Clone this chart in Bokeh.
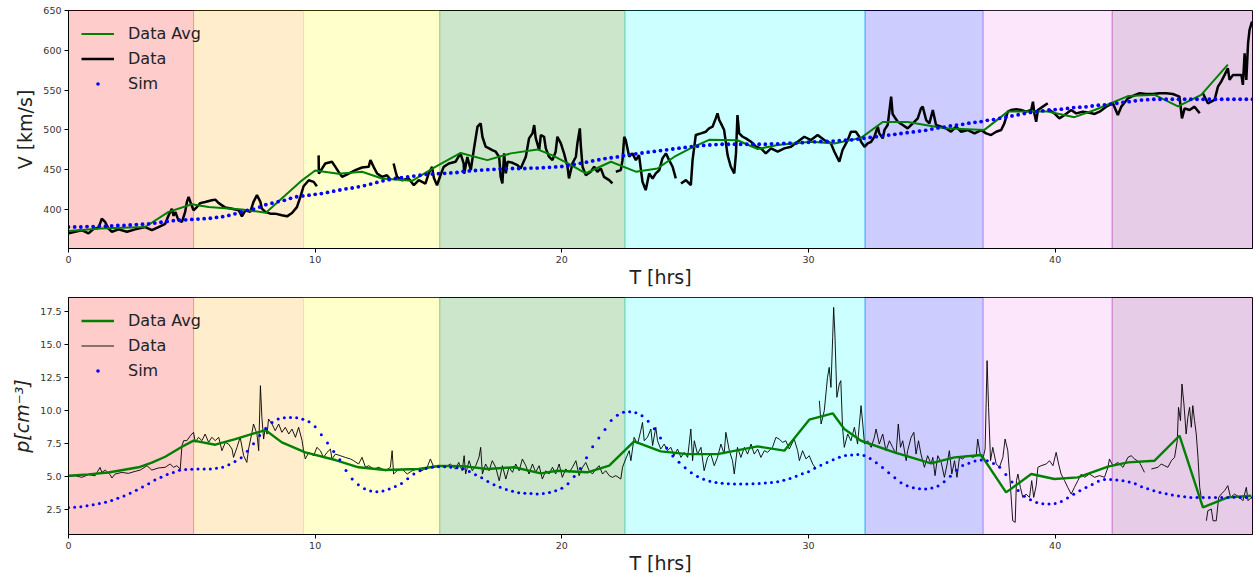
import numpy as np
from bokeh.plotting import figure
from bokeh.models import (BoxAnnotation, Legend, LegendItem, FixedTicker,
                          PrintfTickFormatter, Range1d)
from bokeh.layouts import column
from bokeh.embed import file_html
from bokeh.resources import INLINE

nan = float("nan")

# ---------------- data ----------------
span_edges = [0.0, 5.07, 9.53, 15.05, 22.56, 32.29, 37.08, 42.31, 48.0]
span_colors = ["red", "orange", "yellow", "green", "cyan", "blue", "violet", "purple"]

x_ticks = [0, 10, 20, 30, 40]
v_ticks = [400, 450, 500, 550, 600, 650]
p_ticks = [2.5, 5.0, 7.5, 10.0, 12.5, 15.0, 17.5]

# Speed: measured data (t [hrs], V [km/s]); nan = data gap
v_data = [
    (0, 370), (0.27, 372), (0.54, 374), (0.81, 370), (1.01, 375.5), (1.22, 377), (1.35, 388.5),
    (1.49, 384), (1.62, 376), (1.76, 372), (2.03, 375), (2.37, 372), (2.7, 375), (3.11, 378),
    (3.38, 374), (3.65, 378), (3.92, 382), (4.06, 392.7), (4.19, 401), (4.26, 392), (4.33, 397),
    (4.46, 386.4), (4.6, 384.3), (4.73, 397), (4.8, 409.5), (4.87, 415.8), (4.94, 409.5),
    (5.07, 399), (5.2, 403), (5.34, 408), (5.54, 409.5), (5.81, 411.6), (5.95, 412.4), (6.09, 408),
    (6.36, 402.4), (6.63, 401), (6.9, 399), (7.03, 391.4), (7.17, 399), (7.37, 397), (7.5, 409.5),
    (7.64, 418), (7.78, 409.5), (7.84, 401), (7.98, 397), (8.18, 394.8), (8.38, 394.8),
    (8.65, 392.7), (8.86, 391.4), (9.06, 395.6), (9.26, 403), (9.4, 415.8), (9.53, 429.2),
    (9.74, 436.8), (9.94, 434.7), (10.07, 429.2), (10.1, nan),
    (10.14, 468), (10.15, 445), (10.41, 457.8), (10.68, 460), (10.82, 453.6), (10.95, 447.3),
    (11.09, 441), (11.36, 445.2), (11.63, 449.4), (11.9, 452.8), (12.17, 453.6), (12.24, 462),
    (12.37, 453.6), (12.51, 445.2), (12.71, 441), (12.91, 443), (13.05, 437.6), (13.1, nan),
    (13.18, 457.8), (13.25, 449), (13.32, 441), (13.52, 436.8), (13.79, 439), (14.0, 430.5),
    (14.2, 436.8), (14.47, 432.6), (14.6, 445.2), (14.74, 453.6), (14.81, 440), (14.94, 430.5),
    (15.08, 443), (15.21, 453.6), (15.42, 457.8), (15.69, 460), (15.89, 470.4), (16.02, 457.8),
    (16.04, 445), (16.17, 466), (16.31, 449.5), (16.44, 476.8), (16.58, 504), (16.71, 508.2),
    (16.78, 491.4), (16.91, 478.9), (17.05, 476.8), (17.18, 474.6), (17.32, 472.6), (17.46, 466),
    (17.52, 441), (17.59, 432.7), (17.66, 470.5), (17.73, 445.3), (17.8, 460), (18.0, 458.7),
    (18.2, 455.8), (18.33, 451.6), (18.54, 466.3), (18.67, 489.3), (18.81, 495.6), (18.88, 506),
    (18.94, 490), (19.08, 474.6), (19.15, 493.6), (19.28, 491.4), (19.35, 476.8), (19.48, 466.3),
    (19.62, 462), (19.75, 472.6), (19.82, 491.4), (19.96, 483), (20.09, 470.5), (20.23, 453.7),
    (20.29, 439), (20.43, 457.9), (20.57, 466.3), (20.63, 483), (20.73, 501.9), (20.77, 480),
    (20.84, 453.7), (20.97, 443.2), (21.17, 447.4), (21.31, 453.7), (21.44, 447.4), (21.58, 451.6),
    (21.71, 441), (21.92, 436.9), (22.05, 432.7), (22.1, nan),
    (22.19, 447.4), (22.39, 449.5), (22.46, 462), (22.53, 491.4), (22.59, 487.2), (22.73, 466.3),
    (22.86, 470.5), (23.0, 462), (23.13, 468.4), (23.27, 434.8), (23.4, 424.3), (23.54, 445.3),
    (23.68, 439), (23.81, 445.3), (23.95, 449.5), (24.08, 464.2), (24.22, 470.5), (24.35, 462),
    (24.49, 453.7), (24.62, 439), (24.7, nan),
    (24.83, 432.7), (25.03, 436.9), (25.23, 430.6), (25.3, 462), (25.37, 478.9), (25.43, 493.6),
    (25.64, 495.6), (25.84, 497.7), (25.97, 502), (26.11, 504), (26.24, 514.5), (26.31, 520.8),
    (26.38, 512.4), (26.45, 508.2), (26.58, 499.8), (26.72, 468.4), (26.85, 453.7), (26.99, 445.3),
    (27.06, 470.5), (27.12, 518.7), (27.19, 495.6), (27.33, 491.4), (27.46, 489.3), (27.67, 485.1),
    (27.87, 478.9), (28.07, 476.8), (28.27, 470.5), (28.48, 476.8), (28.75, 472.6), (29.02, 476.8),
    (29.29, 478.9), (29.56, 485.1), (29.83, 491.4), (30.1, 487.2), (30.37, 493.6), (30.64, 487.2),
    (30.91, 483), (31.05, 472.6), (31.25, 460), (31.38, 474.7), (31.59, 487.2), (31.72, 497.7),
    (31.92, 497.7), (32.06, 491.4), (32.13, 485.1), (32.27, 478.8), (32.4, 483), (32.54, 485.1),
    (32.67, 491.4), (32.81, 504), (32.87, 495.6), (33.01, 489.3), (33.08, 500), (33.21, 506.1),
    (33.35, 541.8), (33.41, 520), (33.48, 516.6), (33.62, 510.3), (33.82, 506.1), (34.02, 501.9),
    (34.23, 508.2), (34.43, 514.5), (34.56, 527.1), (34.63, 529.2), (34.77, 512.4), (34.9, 508.2),
    (35.04, 525), (35.17, 506.1), (35.38, 504), (35.58, 501.9), (35.78, 497.7), (35.98, 504),
    (36.19, 497.7), (36.46, 499.8), (36.73, 495.6), (37.0, 499.8), (37.2, 495.6), (37.4, 493.5),
    (37.61, 497.7), (37.81, 499.8), (37.94, 508.2), (38.08, 522.9), (38.21, 525), (38.42, 525.8),
    (38.62, 525), (38.82, 522.9), (39.03, 525), (39.1, 535.5), (39.16, 520), (39.23, 510.3),
    (39.3, 525), (39.5, 529.2), (39.7, 533.4), (39.74, nan),
    (39.77, 525), (39.97, 520.8), (40.17, 514.5), (40.38, 518.7), (40.65, 525), (40.85, 520.8),
    (41.12, 522.9), (41.39, 521.6), (41.6, 520), (41.8, 522.9), (42.07, 529.2), (42.34, 533.4),
    (42.54, 518.7), (42.68, 529.2), (42.81, 534.2), (42.95, 539.7), (43.15, 542.6), (43.42, 546),
    (43.69, 545.1), (43.96, 545.1), (44.23, 546), (44.5, 546), (44.77, 545.1), (45.04, 541.8),
    (45.14, 514.5), (45.25, 527.1), (45.45, 525), (45.65, 529.2), (45.86, 520.8), (45.92, nan),
    (45.99, 546), (46.19, 533.4), (46.46, 537.6), (46.6, 554.4), (46.73, 560.7), (46.87, 569.1),
    (47.0, 577.5), (47.07, 562.8), (47.21, 569.1), (47.41, 569.1), (47.55, 569.1), (47.61, 556.5),
    (47.68, 596.3), (47.75, 562.8), (47.82, 608.9), (47.88, 625.7), (47.98, 636.2),
]

# Speed: data average
v_avg = [
    (0, 373), (1.3, 376), (3.1, 378), (4.06, 397), (5.0, 406.5), (5.68, 403), (7.03, 400),
    (8.0, 396), (9.4, 435), (10.0, 449), (10.95, 445), (11.9, 447.5), (12.71, 439), (13.93, 436),
    (14.87, 453.5), (15.9, 471), (16.98, 462), (17.93, 470.5), (19.01, 475.5), (19.62, 468),
    (20.36, 456), (20.97, 445.5), (21.99, 460), (23.0, 447.5), (23.88, 451.5), (24.55, 466),
    (25.23, 477), (25.97, 487.5), (27.12, 487), (27.94, 476), (28.75, 481), (30.1, 485),
    (31.05, 483), (32.13, 490), (33.01, 510), (34.02, 510), (35.51, 502), (37.13, 500),
    (38.08, 523), (39.7, 523), (40.78, 516), (41.6, 525), (42.95, 542.5), (44.03, 544),
    (44.98, 529.5), (45.92, 544), (47.0, 582),
]

# Speed: simulation, one value every 0.25 hr from t = 0
v_sim = [
    378, 378, 378, 378.5, 378.5, 379, 379, 379.5, 380, 380, 380.5, 381,
    381.5, 382, 383, 384, 385, 386, 386.5, 387, 387.5, 388, 388.5, 389,
    390, 391, 392.5, 394.5, 397, 399, 400.5, 403, 406, 408, 410, 411.5,
    414, 416, 417, 418, 419, 420, 421.5, 423, 424.5, 426, 427, 428.5,
    430, 432, 434, 436, 437.5, 439, 440, 441, 442, 443, 444, 444.5,
    445, 445.5, 446, 446.5, 448, 448.5, 449, 449.5, 450, 450.5, 451, 451.5,
    451.5, 451.5, 451.5, 452, 452, 452.5, 453, 453.5, 454, 455, 456.5, 458,
    459.5, 461, 462.5, 464, 465, 466, 467.5, 469, 470, 471, 472, 473,
    474, 475, 476, 477, 478, 479, 479.5, 480.5, 481, 481.5, 482, 482,
    482, 482, 482, 482, 482, 482, 482.5, 482.5, 483, 483.5, 483.5, 484,
    484.5, 485, 485.5, 485.5, 486, 486.5, 487, 487.5, 488.5, 489.5, 490.5, 491.5,
    492.5, 493.5, 494.5, 495.5, 496.5, 497.5, 498.5, 499.5, 501, 502.5, 503.5, 505,
    506, 507, 508.5, 509.5, 510.5, 512, 513, 514.5, 516, 517.5, 519, 520.5,
    522, 523, 524, 525, 525.5, 526, 527, 528, 528.5, 529, 530, 531,
    531.5, 532.5, 533.5, 534.5, 535.5, 536.5, 537.5, 538, 538.5, 538.5, 538.5, 538.5,
    538.5, 538.5, 538.5, 538.5, 538.5, 538.5, 538.5, 538.5, 538.5, 538.5, 538.5, 538.5,
    538.5,
]

# Density: measured data (t [hrs], p [cm^-3])
p_data = [
    (0, 4.98), (0.27, 5.05), (0.54, 4.93), (0.81, 5.13), (1.08, 5.05), (1.28, 5.68), (1.35, 5.3),
    (1.49, 5.48), (1.69, 5.13), (1.76, 4.88), (1.89, 5.18), (2.16, 5.3), (2.43, 5.23), (2.7, 5.38),
    (2.91, 5.48), (3.18, 5.81), (3.38, 5.48), (3.65, 5.64), (3.92, 5.69), (4.12, 5.94), (4.26, 5.69),
    (4.39, 5.81), (4.53, 5.56), (4.6, 7.33), (4.67, 7.71), (4.8, 7.71), (4.94, 8.08), (5.07, 8.34),
    (5.14, 7.58), (5.27, 7.96), (5.41, 7.71), (5.54, 8.21), (5.68, 7.58), (5.81, 7.96), (5.95, 7.71),
    (6.09, 7.96), (6.22, 6.95), (6.36, 7.58), (6.49, 7.45), (6.63, 7.07), (6.69, 6.44), (6.83, 7.2),
    (6.96, 7.96), (7.1, 6.57), (7.23, 6.06), (7.3, 7.07), (7.44, 8.34), (7.5, 8.97), (7.64, 8.21),
    (7.71, 6.95), (7.78, 11.87), (7.84, 9.47), (7.91, 7.83), (7.98, 8.72), (8.05, 8.2), (8.11, 9.35),
    (8.25, 8.97), (8.38, 8.46), (8.52, 8.97), (8.65, 8.34), (8.79, 8.72), (8.93, 8.21), (9.06, 8.59),
    (9.2, 7.96), (9.33, 8.72), (9.47, 7.71), (9.53, 6.95), (9.6, 6.32), (9.74, 6.82), (9.94, 6.57),
    (10.07, 7.2), (10.21, 6.95), (10.34, 6.44), (10.48, 6.82), (10.62, 7.07), (10.68, 6.32),
    (10.82, 6.69), (11.02, 6.57), (11.22, 6.44), (11.43, 6.32), (11.56, 6.19), (11.76, 5.94),
    (11.9, 6.44), (12.04, 5.69), (12.17, 5.81), (12.37, 5.56), (12.58, 5.69), (12.85, 5.43),
    (13.05, 5.69), (13.12, 6.95), (13.18, 5.18), (13.32, 5.43), (13.52, 5.56), (13.73, 5.18),
    (13.93, 5.43), (14.13, 5.56), (14.33, 5.43), (14.54, 5.69), (14.67, 6.32), (14.81, 5.69),
    (15.01, 5.81), (15.28, 5.69), (15.48, 5.94), (15.69, 5.56), (15.82, 6.06), (15.96, 5.43),
    (16.04, 6.57), (16.1, 5.18), (16.24, 6.19), (16.37, 5.43), (16.51, 5.81), (16.64, 6.44),
    (16.71, 7.2), (16.78, 5.18), (16.91, 5.94), (17.05, 5.43), (17.18, 6.19), (17.32, 5.69),
    (17.46, 4.67), (17.59, 5.81), (17.73, 4.8), (17.86, 5.69), (18.0, 5.31), (18.13, 5.94),
    (18.27, 5.43), (18.4, 6.32), (18.54, 5.81), (18.67, 5.18), (18.81, 5.94), (18.94, 5.31),
    (19.08, 5.81), (19.21, 4.8), (19.35, 5.43), (19.48, 5.18), (19.62, 5.69), (19.75, 5.18),
    (19.89, 5.94), (20.02, 4.93), (20.16, 5.56), (20.3, 5.31), (20.43, 5.69), (20.57, 6.19),
    (20.7, 5.06), (20.84, 5.69), (20.97, 6.06), (21.11, 5.43), (21.24, 5.18), (21.38, 5.56),
    (21.51, 5.81), (21.65, 5.18), (21.78, 5.43), (21.92, 5.06), (22.05, 4.93), (22.19, 5.06),
    (22.39, 4.8), (22.46, 5.69), (22.59, 6.32), (22.73, 6.95), (22.8, 6.19), (22.93, 7.96),
    (23.07, 7.45), (23.2, 8.46), (23.27, 9.09), (23.34, 7.7), (23.47, 7.96), (23.61, 8.59),
    (23.68, 7.33), (23.81, 8.72), (23.88, 7.7), (24.01, 7.07), (24.15, 7.45), (24.28, 6.95),
    (24.42, 7.2), (24.55, 6.57), (24.69, 7.07), (24.83, 6.44), (24.96, 6.82), (25.1, 6.44),
    (25.23, 8.59), (25.3, 6.19), (25.37, 7.7), (25.5, 6.69), (25.64, 7.2), (25.77, 5.43),
    (25.91, 6.44), (26.04, 6.69), (26.18, 5.81), (26.31, 6.44), (26.45, 7.45), (26.58, 6.69),
    (26.65, 8.34), (26.79, 6.95), (26.92, 6.19), (26.99, 5.18), (27.12, 7.2), (27.26, 6.44),
    (27.4, 7.2), (27.53, 6.69), (27.67, 7.45), (27.8, 6.69), (27.94, 7.07), (28.07, 6.44),
    (28.21, 6.95), (28.34, 6.82), (28.54, 7.2), (28.68, 7.96), (28.81, 7.83), (28.95, 7.58),
    (29.08, 7.7), (29.22, 7.07), (29.42, 7.83), (29.56, 6.95), (29.63, 6.19), (29.76, 6.95),
    (29.9, 6.32), (30.03, 6.57), (30.17, 5.94), (30.3, 5.6), (30.35, nan),
    (30.44, 10.73), (30.51, 8.97), (30.64, 9.98), (30.77, 12.5), (30.84, 13.26), (30.91, 11.74),
    (30.98, 15.53), (31.02, 17.8), (31.07, 15.79), (31.15, 10.99), (31.25, 12.0), (31.31, 12.25),
    (31.38, 8.72), (31.45, 7.2), (31.59, 8.21), (31.72, 7.7), (31.86, 8.72), (31.99, 7.45),
    (32.1, 9.73), (32.13, 10.36), (32.2, 8.97), (32.27, 7.45), (32.4, 7.7), (32.54, 7.2),
    (32.67, 7.96), (32.74, 8.59), (32.87, 7.45), (33.01, 8.21), (33.14, 6.95), (33.28, 7.7),
    (33.41, 7.2), (33.55, 6.69), (33.64, 8.97), (33.73, 7.2), (33.82, 7.7), (33.96, 6.19),
    (34.02, 6.95), (34.16, 7.96), (34.27, 8.34), (34.36, 6.69), (34.46, 7.7), (34.56, 6.69),
    (34.7, 5.69), (34.83, 6.57), (34.97, 5.94), (35.04, 6.44), (35.13, 5.06), (35.24, 6.57),
    (35.38, 6.06), (35.51, 4.93), (35.62, 5.94), (35.71, 6.95), (35.81, 5.18), (35.92, 6.19),
    (36.02, 4.93), (36.12, 6.44), (36.25, 6.32), (36.39, 6.57), (36.53, 6.57), (36.66, 6.44),
    (36.8, 6.57), (36.86, 7.83), (36.97, 6.57), (37.07, 6.32), (37.16, 7.07), (37.24, 13.77),
    (37.3, 10.23), (37.38, 6.19), (37.47, 7.2), (37.61, 5.94), (37.74, 5.69), (37.88, 6.44),
    (37.97, 7.83), (38.08, 6.95), (38.19, 4.17), (38.28, 1.64), (38.38, 1.52), (38.43, 4.68),
    (38.49, 5.18), (38.59, 4.17), (38.69, 3.41), (38.82, 3.66), (38.96, 3.41), (39.05, 4.68),
    (39.13, 3.41), (39.23, 4.3), (39.3, 5.69), (39.43, 5.81), (39.64, 5.94), (39.77, 6.19),
    (39.91, 5.81), (40.04, 6.82), (40.14, 5.94), (40.24, 5.18), (40.38, 4.68), (40.51, 4.17),
    (40.65, 3.66), (40.78, 4.17), (40.92, 4.68), (41.06, 5.18), (41.19, 4.93), (41.39, 5.18),
    (41.6, 4.93), (41.8, 5.06), (42.0, 4.93), (42.14, 5.69), (42.2, 6.32), (42.34, 5.81),
    (42.54, 6.06), (42.75, 5.69), (42.95, 6.44), (43.08, 6.57), (43.22, 6.32), (43.42, 6.06),
    (43.62, 5.31), (43.75, nan), (43.9, 5.56), (44.17, 5.69), (44.3, 5.94), (44.44, 5.81),
    (44.57, 5.69), (44.71, 6.19), (44.84, 6.44), (44.95, 7.71), (45.0, 10.23), (45.08, 9.22),
    (45.14, 12.0), (45.22, 10.48), (45.31, 8.21), (45.38, 9.47), (45.45, 10.23), (45.52, 8.72),
    (45.58, 10.36), (45.65, 9.22), (45.72, 8.21), (45.79, 6.44), (45.86, 4.17), (45.92, 3.41),
    (46.0, nan), (46.13, 1.64), (46.19, 2.4), (46.33, 2.53), (46.4, 1.64), (46.53, 1.64),
    (46.63, 3.41), (46.73, 3.66), (46.87, 3.92), (47.0, 4.3), (47.11, 3.41), (47.27, 3.66),
    (47.48, 3.41), (47.61, 3.16), (47.75, 4.17), (47.82, 3.16), (47.95, 3.41),
]

# Density: data average
p_avg = [
    (0, 5.05), (0.8, 5.15), (1.62, 5.3), (2.84, 5.69), (3.38, 6.04), (3.92, 6.49), (4.6, 7.25),
    (5.07, 7.71), (5.95, 7.4), (6.76, 7.83), (7.98, 8.51), (8.65, 7.58), (9.6, 6.82),
    (10.82, 6.24), (11.76, 5.69), (12.85, 5.48), (14.2, 5.56), (15.0, 5.79), (16.0, 5.78),
    (16.98, 5.56), (18.06, 5.69), (19.15, 5.23), (19.82, 5.43), (21.04, 5.31), (21.92, 5.81),
    (22.93, 7.65), (24.01, 6.9), (25.1, 6.69), (26.31, 6.69), (27.94, 7.27), (29.02, 6.95),
    (30.03, 9.3), (30.98, 9.78), (31.45, 8.59), (32.13, 7.7), (33.48, 6.82), (34.97, 5.99),
    (35.92, 6.44), (37.0, 6.62), (38.01, 3.79), (39.03, 5.18), (39.97, 4.8), (40.92, 4.93),
    (42.14, 5.74), (42.95, 6.06), (44.03, 6.19), (45.04, 8.08), (45.99, 2.65), (47.0, 3.41),
    (47.95, 3.54),
]

# Density: simulation, one value every 0.25 hr from t = 0
p_sim = [
    2.65, 2.67, 2.70, 2.77, 2.86, 2.95, 3.05, 3.18, 3.34, 3.52, 3.72, 3.96,
    4.20, 4.45, 4.72, 4.93, 5.14, 5.30, 5.46, 5.52, 5.55, 5.56, 5.56, 5.57,
    5.62, 5.70, 5.88, 6.12, 6.42, 6.90, 7.48, 8.10, 8.62, 9.09, 9.35, 9.45,
    9.47, 9.44, 9.33, 9.14, 8.76, 8.15, 7.53, 6.88, 6.27, 5.45, 4.80, 4.36,
    4.06, 3.90, 3.83, 3.90, 4.05, 4.23, 4.47, 4.83, 5.18, 5.42, 5.59, 5.70,
    5.74, 5.73, 5.70, 5.65, 5.58, 5.38, 5.13, 4.90, 4.62, 4.37, 4.18, 4.01,
    3.87, 3.77, 3.73, 3.70, 3.66, 3.71, 3.78, 3.92, 4.10, 4.45, 5.00, 5.60,
    6.42, 7.25, 7.90, 8.56, 9.23, 9.63, 9.85, 9.90, 9.83, 9.60, 9.17, 8.60,
    7.90, 7.15, 6.55, 6.08, 5.65, 5.28, 5.00, 4.79, 4.63, 4.53, 4.48, 4.45,
    4.42, 4.42, 4.42, 4.44, 4.46, 4.50, 4.54, 4.60, 4.70, 4.85, 5.02, 5.20,
    5.36, 5.62, 5.84, 6.05, 6.27, 6.45, 6.58, 6.63, 6.65, 6.58, 6.36, 6.04,
    5.67, 5.27, 4.90, 4.52, 4.30, 4.15, 4.06, 4.05, 4.13, 4.28, 4.60, 5.02,
    5.47, 5.82, 6.00, 6.17, 6.24, 6.18, 5.98, 5.70, 5.15, 4.58, 3.94, 3.50,
    3.24, 3.03, 2.93, 2.91, 2.95, 3.09, 3.36, 3.65, 3.92, 4.16, 4.39, 4.63,
    4.77, 4.77, 4.72, 4.67, 4.58, 4.44, 4.22, 4.06, 3.92, 3.79, 3.69, 3.60,
    3.52, 3.46, 3.41, 3.41, 3.41, 3.41, 3.41, 3.41, 3.41, 3.42, 3.41, 3.40,
    3.41,
]
sim_dt = 0.25

FONT = "DejaVu Sans"


def unzip(pairs):
    return [a for a, _ in pairs], [b for _, b in pairs]


def make_panel(ylabel, yrange, yticks, data, avg, sim, data_width, avg_width, sim_size,
               top_border, frame_h, ylab_italic=False, fmt=None):
    p = figure(frame_width=1184, frame_height=frame_h,
               x_range=Range1d(0, 48.0), y_range=Range1d(*yrange),
               min_border_left=68, min_border_right=3, min_border_top=top_border,
               min_border_bottom=38, output_backend="svg", toolbar_location=None,
               background_fill_color="white", border_fill_color="white")
    p.grid.visible = False
    p.outline_line_color = "black"
    p.outline_line_width = 1

    for i, c in enumerate(span_colors):
        p.add_layout(BoxAnnotation(left=span_edges[i], right=span_edges[i + 1],
                                   fill_color=c, fill_alpha=0.2,
                                   line_color=c, line_alpha=0.35, line_width=1,
                                   level="underlay"))

    dt, dv = unzip(data)
    at, av = unzip(avg)
    st = [i * sim_dt for i in range(len(sim))]

    r_data = p.line(dt, dv, line_color="black", line_width=data_width,
                    line_alpha=0.9 if data_width < 1.5 else 1.0)
    r_avg = p.line(at, av, line_color="green", line_width=avg_width)
    r_sim = p.scatter(st, sim, size=sim_size, fill_color="blue", line_color="blue",
                      line_width=0, marker="circle")

    legend = Legend(items=[LegendItem(label="Data Avg", renderers=[r_avg]),
                           LegendItem(label="Data", renderers=[r_data]),
                           LegendItem(label="Sim", renderers=[r_sim])],
                    location="top_left", background_fill_alpha=0,
                    border_line_alpha=0, label_text_font=FONT,
                    label_text_font_size="16px", label_text_color="#222222",
                    glyph_width=33, glyph_height=9, label_height=20, spacing=5,
                    padding=11, margin=2, label_standoff=14)
    p.add_layout(legend)

    p.xaxis.ticker = FixedTicker(ticks=x_ticks)
    p.yaxis.ticker = FixedTicker(ticks=yticks)
    if fmt:
        p.yaxis.formatter = PrintfTickFormatter(format=fmt)
    p.xaxis.axis_label = "T [hrs]"
    p.yaxis.axis_label = ylabel
    for ax in (p.xaxis[0], p.yaxis[0]):
        ax.axis_line_color = "black"
        ax.major_tick_line_color = "black"
        ax.major_tick_out = 4
        ax.major_tick_in = 0
        ax.minor_tick_line_color = None
        ax.major_label_text_font = FONT
        ax.major_label_text_font_size = "9.5px"
        ax.major_label_text_color = "#333333"
        ax.axis_label_text_font = FONT
        ax.axis_label_text_font_size = "19px"
        ax.axis_label_text_color = "#222222"
        ax.axis_label_text_font_style = "normal"
        ax.major_label_standoff = 3
    p.xaxis.axis_label_standoff = 0
    p.yaxis.axis_label_standoff = 4
    if ylab_italic:
        p.yaxis.axis_label_text_font_style = "italic"
    return p


p1 = make_panel("V [km/s]", (351, 650), v_ticks, v_data, v_avg, v_sim, 2.5, 2.0, 3.8,
                10, 238)
p2 = make_panel("p[cm⁻³]", (0.6, 18.55), p_ticks, p_data, p_avg, p_sim, 1.0, 2.4, 3.0,
                7, 237, ylab_italic=True, fmt="%.1f")

layout = column(p1, p2, spacing=0)
open("out.html", "w").write(file_html(layout, INLINE))
